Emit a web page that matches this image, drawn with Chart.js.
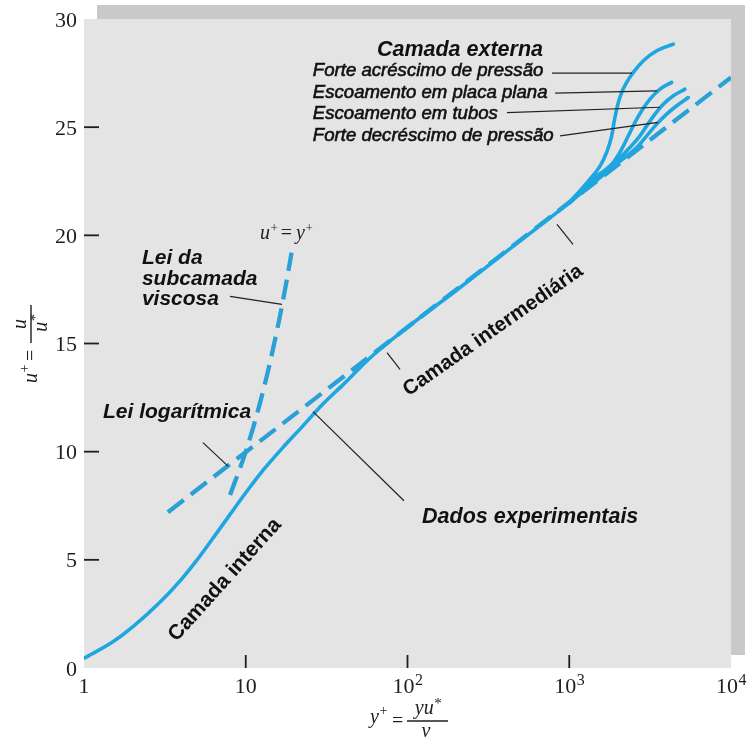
<!DOCTYPE html>
<html>
<head>
<meta charset="utf-8">
<script src="https://cdn.jsdelivr.net/npm/chart.js@4.4.1/dist/chart.umd.min.js"></script>
<style>
  html, body { margin: 0; padding: 0; background: #ffffff; }
  #wrap { width: 749px; height: 738px; }
</style>
</head>
<body>
<div id="wrap"><canvas id="c" width="749" height="738"></canvas></div>
<script>
// ---- axis ticks ----
const yPlusTicks = [1, 10, 100, 1000, 10000];
const yPlusTickText = [['1', ''], ['10', ''], ['10', '2'], ['10', '3'], ['10', '4']];
const uPlusTicks = [0, 5, 10, 15, 20, 25, 30];

// ---- experimental profile (inner + intermediate layer) ----
const expYPlus = [1, 1.5, 2, 3, 4, 5, 6, 8, 10, 13, 17, 22, 30, 40, 60, 100, 200, 400, 700, 1000];
const expUPlus = [0.45, 1.2, 1.9, 3.1, 4.1, 5.0, 5.8, 7.1, 8.1, 9.2, 10.2, 11.1, 12.2, 13.1, 14.4, 15.75, 17.45, 19.2, 20.6, 21.5];

// ---- outer layer branches ----
const strongAdverseYPlus = [1000, 1343, 1550, 1705, 1830, 1891, 1945, 2011, 2110, 2265, 2490, 2873, 3474, 4400];
const strongAdverseUPlus = [21.5, 22.6, 23.2, 23.85, 24.6, 25.22, 25.68, 26.14, 26.61, 27.07, 27.53, 28.07, 28.53, 28.84];

const flatPlateYPlus = [1000, 1343, 1873, 2110, 2318, 2549, 2803, 3155, 3640, 4300];
const flatPlateUPlus = [21.5, 22.5, 23.37, 23.98, 24.6, 25.22, 25.76, 26.3, 26.76, 27.07];

const pipeYPlus = [1000, 1400, 2000, 2738, 3012, 3388, 3814, 4400, 5190];
const pipeUPlus = [21.5, 22.5, 23.5, 24.6, 25.06, 25.6, 26.06, 26.45, 26.76];

const favorableYPlus = [1000, 1400, 2000, 2612, 3012, 3474, 4002, 4617, 5445];
const favorableUPlus = [21.5, 22.4, 23.35, 24.06, 24.6, 25.14, 25.6, 25.99, 26.37];

// ---- reference laws ----
const logLawYPlus = [3.3, 10000];
const logLawUPlus = [7.2, 27.3];

const viscousYPlus = [8, 10, 12, 14, 16, 18, 19.2];
const viscousUPlus = [8, 10, 12, 14, 16, 18, 19.2];

const toPoints = (xs, ys) => xs.map((x, i) => ({ x: x, y: ys[i] }));

const BLUE = '#1ea6e0';
const BLUE_DASH = '#2aa0d6';

function solid(xs, ys) {
  return {
    data: toPoints(xs, ys),
    borderColor: BLUE,
    borderWidth: 3.6,
    pointRadius: 0,
    fill: false,
    cubicInterpolationMode: 'monotone',
    borderCapStyle: 'round'
  };
}
function dashed(xs, ys) {
  return {
    data: toPoints(xs, ys),
    borderColor: BLUE_DASH,
    borderWidth: 4.3,
    borderDash: [20, 9],
    pointRadius: 0,
    fill: false,
    cubicInterpolationMode: 'monotone'
  };
}

// ---- plot frame with offset shadow ----
const framePlugin = {
  id: 'frame',
  beforeDraw(chart) {
    const { ctx, chartArea: a } = chart;
    ctx.save();
    ctx.fillStyle = '#c9c9c9';
    ctx.fillRect(a.left + 13, a.top - 14, a.right - a.left + 1, a.bottom - a.top + 1);
    ctx.fillStyle = '#e4e4e4';
    ctx.fillRect(a.left, a.top, a.right - a.left, a.bottom - a.top);
    ctx.restore();
  }
};

function textWithSup(ctx, base, sup, x, y, baseFont, supFont, supRise, align) {
  ctx.font = baseFont;
  const wb = ctx.measureText(base).width;
  ctx.font = supFont;
  const ws = sup ? ctx.measureText(sup).width : 0;
  let x0 = x;
  if (align === 'center') x0 = x - (wb + ws) / 2;
  else if (align === 'right') x0 = x - (wb + ws);
  ctx.textAlign = 'left';
  ctx.font = baseFont;
  ctx.fillText(base, x0, y);
  if (sup) {
    ctx.font = supFont;
    ctx.fillText(sup, x0 + wb + 0.5, y - supRise);
  }
  return x0 + wb + ws + 0.5;
}

// ---- axes: tick marks, tick labels, titles ----
const axesPlugin = {
  id: 'axesDraw',
  afterDraw(chart) {
    const { ctx, chartArea: a, scales } = chart;
    const sx = scales.x, sy = scales.y;
    ctx.save();
    ctx.fillStyle = '#1e1e1e';
    ctx.strokeStyle = '#1e1e1e';
    ctx.lineWidth = 1.8;
    ctx.textBaseline = 'alphabetic';

    // y ticks
    uPlusTicks.forEach(v => {
      const y = sy.getPixelForValue(v);
      if (v > 0 && v < 30) {
        ctx.beginPath();
        ctx.moveTo(a.left, y);
        ctx.lineTo(a.left + 15, y);
        ctx.stroke();
      }
      ctx.font = '22px "Liberation Serif"';
      ctx.textAlign = 'right';
      ctx.fillText(String(v), a.left - 7, y + 7.5);
    });

    // x ticks
    yPlusTicks.forEach((v, i) => {
      const x = sx.getPixelForValue(v);
      if (i > 0 && i < yPlusTicks.length - 1) {
        ctx.beginPath();
        ctx.moveTo(x, a.bottom - 13);
        ctx.lineTo(x, a.bottom);
        ctx.stroke();
      }
      const t = yPlusTickText[i];
      textWithSup(ctx, t[0], t[1], x, a.bottom + 25, '22px "Liberation Serif"', '16px "Liberation Serif"', 8, 'center');
    });

    // x title: y+ = y u* / nu
    const serifI = 'italic 20px "Liberation Serif"';
    ctx.textAlign = 'left';
    textWithSup(ctx, 'y', '+', 370, 723, serifI, '14px "Liberation Serif"', 8, 'left');
    ctx.font = '20px "Liberation Serif"';
    ctx.fillText('=', 392, 727);
    ctx.lineWidth = 1.4;
    ctx.beginPath(); ctx.moveTo(407, 721); ctx.lineTo(448, 721); ctx.stroke();
    textWithSup(ctx, 'yu', '*', 428, 714, serifI, '15px "Liberation Serif"', 6, 'center');
    ctx.font = serifI;
    ctx.textAlign = 'center';
    ctx.fillText('\u03BD', 426, 737);

    // y title (rotated): u+ = u / u*
    ctx.save();
    ctx.translate(31, 345);
    ctx.rotate(-Math.PI / 2);
    ctx.textAlign = 'left';
    textWithSup(ctx, 'u', '+', -38, 6, serifI, '14px "Liberation Serif"', 8, 'left');
    ctx.font = '20px "Liberation Serif"';
    ctx.textAlign = 'left';
    ctx.fillText('=', -16, 6);
    ctx.beginPath(); ctx.moveTo(2, 0); ctx.lineTo(40, 0); ctx.stroke();
    ctx.font = serifI;
    ctx.textAlign = 'center';
    ctx.fillText('u', 21, -5);
    textWithSup(ctx, 'u', '*', 22, 16, serifI, '15px "Liberation Serif"', 7, 'center');
    ctx.restore();

    ctx.restore();
  }
};

// ---- annotations (anchored in data coordinates) ----
const labelsPlugin = {
  id: 'labels',
  afterDatasetsDraw(chart) {
    const { ctx, scales } = chart;
    const P = (x, y) => [scales.x.getPixelForValue(x), scales.y.getPixelForValue(y)];
    const boldI = 'italic bold 21px "Liberation Sans"';
    const rowFont = 'italic 18.6px "Liberation Sans"';
    ctx.save();
    ctx.fillStyle = '#111';
    ctx.strokeStyle = '#222';
    ctx.textBaseline = 'alphabetic';

    function text(str, x, y, font, align, heavy) {
      const [px, py] = P(x, y);
      ctx.font = font;
      ctx.textAlign = align;
      ctx.fillText(str, px, py);
      if (heavy) {
        ctx.lineWidth = heavy;
        ctx.strokeStyle = '#111';
        ctx.strokeText(str, px, py);
      }
    }
    function leader(x1, y1, x2, y2) {
      const [a, b] = P(x1, y1), [c, d] = P(x2, y2);
      ctx.lineWidth = 1.2;
      ctx.strokeStyle = '#222';
      ctx.beginPath(); ctx.moveTo(a, b); ctx.lineTo(c, d); ctx.stroke();
    }
    function rotated(str, x, y, deg, font) {
      const [px, py] = P(x, y);
      ctx.save();
      ctx.translate(px, py);
      ctx.rotate(deg * Math.PI / 180);
      ctx.font = font;
      ctx.textAlign = 'center';
      ctx.textBaseline = 'middle';
      ctx.fillText(str, 0, 0);
      ctx.restore();
    }

    // outer layer
    text('Camada externa', 211, 28.29, 'italic bold 21.5px "Liberation Sans"', 'center');
    text('Forte acréscimo de pressão', 26, 27.36, rowFont, 'left', 0.6);
    text('Escoamento em placa plana', 26, 26.36, rowFont, 'left', 0.6);
    text('Escoamento em tubos', 26, 25.37, rowFont, 'left', 0.6);
    text('Forte decréscimo de pressão', 26, 24.38, rowFont, 'left', 0.6);
    leader(782, 27.5, 2443, 27.5);
    leader(817, 26.57, 3486, 26.68);
    leader(412, 25.67, 3640, 25.92);
    leader(877, 24.6, 3540, 25.22);

    // viscous sublayer
    {
      const [px, py] = P(12.25, 19.81);
      ctx.fillStyle = '#222';
      const sI = 'italic 20px "Liberation Serif"';
      const sS = '13px "Liberation Serif"';
      let xe = textWithSup(ctx, 'u', '+', px, py, sI, sS, 7, 'left');
      ctx.font = '20px "Liberation Serif"';
      ctx.textAlign = 'left';
      ctx.fillText('=', xe + 3, py);
      xe += 3 + ctx.measureText('=').width + 4;
      textWithSup(ctx, 'y', '+', xe, py, sI, sS, 7, 'left');
      ctx.fillStyle = '#111';
    }
    text('Lei da', 2.28, 18.66, boldI, 'left');
    text('subcamada', 2.28, 17.71, boldI, 'left');
    text('viscosa', 2.28, 16.76, boldI, 'left');
    leader(7.99, 17.18, 16.75, 16.81);

    // log law
    text('Lei logarítmica', 1.31, 11.57, boldI, 'left');
    leader(5.44, 10.42, 7.77, 9.33);

    // layer names
    rotated('Camada interna', 7.44, 4.07, -48, 'bold 21px "Liberation Sans"');
    rotated('Camada intermediária', 338, 15.6, -35, 'bold 20.5px "Liberation Sans"');
    leader(74.7, 14.58, 89.9, 13.8);
    leader(840, 20.51, 1055, 19.58);

    // experimental data
    text('Dados experimentais', 123, 6.71, 'italic bold 21.5px "Liberation Sans"', 'left');
    leader(26.05, 11.85, 95.1, 7.73);

    ctx.restore();
  }
};

new Chart(document.getElementById('c'), {
  type: 'line',
  data: {
    datasets: [
      solid(expYPlus, expUPlus),
      solid(strongAdverseYPlus, strongAdverseUPlus),
      solid(flatPlateYPlus, flatPlateUPlus),
      solid(pipeYPlus, pipeUPlus),
      solid(favorableYPlus, favorableUPlus),
      dashed(logLawYPlus, logLawUPlus),
      dashed(viscousYPlus, viscousUPlus)
    ]
  },
  options: {
    responsive: false,
    animation: false,
    events: [],
    layout: { padding: { left: 84, right: 18, top: 19, bottom: 70 } },
    plugins: { legend: { display: false }, tooltip: { enabled: false } },
    scales: {
      x: { type: 'logarithmic', min: 1, max: 10000, display: false },
      y: { type: 'linear', min: 0, max: 30, display: false }
    }
  },
  plugins: [framePlugin, axesPlugin, labelsPlugin]
});
</script>
</body>
</html>
